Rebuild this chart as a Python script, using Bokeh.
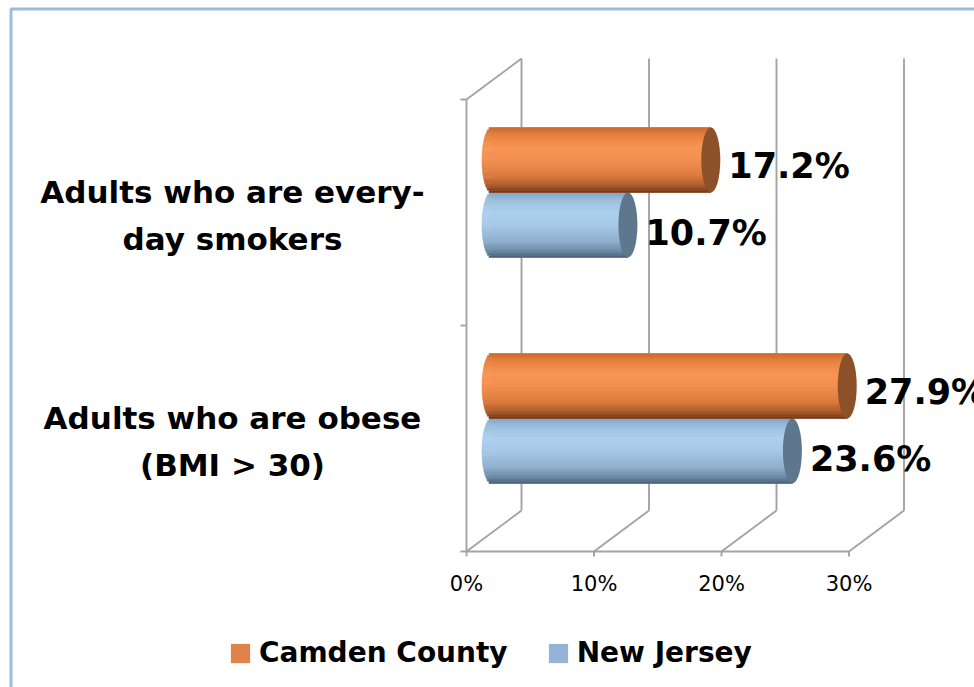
import numpy as np
from bokeh.plotting import figure
from bokeh.models import Range1d, Legend, LegendItem, ColumnDataSource
from bokeh.core.properties import value
from bokeh.embed import file_html
from bokeh.resources import INLINE

# ---------------- data ----------------
categories = ["Adults who are obese (BMI > 30)", "Adults who are every-day smokers"]
category_lines = [["Adults who are obese", "(BMI > 30)"],
                  ["Adults who are every-", "day smokers"]]
series_names = ["Camden County", "New Jersey"]
camden = [27.9, 17.2]
new_jersey = [23.6, 10.7]
x_ticks = [0, 10, 20, 30]
x_tick_labels = ["0%", "10%", "20%", "30%"]
value_labels_camden = ["27.9%", "17.2%"]
value_labels_nj = ["23.6%", "10.7%"]

# ---------------- layout / style ----------------
W, H = 974, 687
PX_PER_PCT = 12.75
ORIGIN_X = 466
FLOOR_Y = 551
BAND_PX = 226
FONT = "DejaVu Sans"
GRID = "#A3A3A3"
GW = 1.9


def sx(px):
    return (px - ORIGIN_X) / PX_PER_PCT


def sy(py):
    return (FLOOR_Y - py) / BAND_PX


DX = 55 / PX_PER_PCT          # depth offset in x (percent units)
DY = 41 / BAND_PX             # depth offset in y (band units)
BAR_X0 = 25 / PX_PER_PCT      # mid-depth x shift
BAR_DY = 20 / BAND_PX         # mid-depth y shift
T = 65 / BAND_PX              # bar thickness
A = 9.5 / PX_PER_PCT          # cap half-width

p = figure(width=W, height=H, x_range=Range1d(sx(0), sx(W)), y_range=Range1d(sy(H), sy(0)),
           output_backend="svg", toolbar_location=None, min_border=0,
           x_axis_location=None, y_axis_location=None, outline_line_color=None)
p.grid.visible = False
p.background_fill_color = "white"

# outer light-blue border (only left/top visible)
p.line(x=[sx(W + 20), sx(10.5), sx(10.5)], y=[sy(8.5), sy(8.5), sy(H + 20)],
       line_color="#9BBCDC", line_width=3)

ncat = len(categories)
top = ncat  # front top in band units

# back wall vertical gridlines
p.segment(x0=[t + DX for t in x_ticks], y0=[DY] * len(x_ticks),
          x1=[t + DX for t in x_ticks], y1=[top + DY] * len(x_ticks),
          line_color=GRID, line_width=GW)
# floor diagonals
p.segment(x0=x_ticks, y0=[0] * len(x_ticks), x1=[t + DX for t in x_ticks], y1=[DY] * len(x_ticks),
          line_color=GRID, line_width=GW)
# front floor edge
p.segment(x0=[x_ticks[0]], y0=[0], x1=[x_ticks[-1]], y1=[0], line_color=GRID, line_width=GW)
# left wall: front vertical + top diagonal
p.segment(x0=[0, 0], y0=[0, top], x1=[0, DX], y1=[top, top + DY], line_color=GRID, line_width=GW)
# left axis ticks at category boundaries
bounds = list(range(ncat + 1))
p.segment(x0=[-6 / PX_PER_PCT] * len(bounds), y0=bounds, x1=[0] * len(bounds), y1=bounds,
          line_color=GRID, line_width=GW)
# bottom ticks
p.segment(x0=x_ticks, y0=[0] * len(x_ticks), x1=x_ticks, y1=[-5 / BAND_PX] * len(x_ticks),
          line_color=GRID, line_width=GW)

# x tick labels
p.text(x=x_ticks, y=[sy(583)] * len(x_ticks), text=x_tick_labels, text_align="center",
       text_baseline="middle", text_font=value(FONT), text_font_size="21px", text_color="black")

# category labels
cx, cy, ct = [], [], []
for i, lines in enumerate(category_lines):
    c = i + 0.5
    for j, ln in enumerate(lines):
        cx.append(sx(232))
        cy.append(c - 3 / BAND_PX + (1 if j == 0 else -1) * 23.5 / BAND_PX)
        ct.append(ln)
p.text(x=cx, y=cy, text=ct, text_align="center", text_baseline="middle",
       text_font=value(FONT), text_font_style="bold", text_font_size="31px", text_color="black")


def hex2rgb(h):
    h = h.lstrip("#")
    return np.array([int(h[i:i + 2], 16) for i in (0, 2, 4)], dtype=float)


def grad(stops, t):
    ts = [s[0] for s in stops]
    cols = [hex2rgb(s[1]) for s in stops]
    for k in range(len(ts) - 1):
        if ts[k] >= t >= ts[k + 1]:
            f = (ts[k] - t) / (ts[k] - ts[k + 1])
            c = cols[k] * (1 - f) + cols[k + 1] * f
            return "#%02x%02x%02x" % tuple(int(round(v)) for v in c)
    return stops[-1][1]


ORANGE_STOPS = [(1.0, "#C96A2B"), (0.8, "#E5803D"), (0.4, "#F89656"), (0.0, "#F28F50"),
                (-0.5, "#DA793D"), (-0.8, "#A8582A"), (-1.0, "#6A3616")]
BLUE_STOPS = [(1.0, "#82A5C5"), (0.8, "#9CBEDD"), (0.4, "#ACD0EE"), (0.0, "#A6C9E8"),
              (-0.5, "#8FB0CE"), (-0.8, "#6C87A2"), (-1.0, "#475D74")]
N = 28


def cylinders(values, centers, stops, legend_color, cap_color):
    base = p.hbar(y=centers, height=T, left=BAR_X0, right=[BAR_X0 + v for v in values],
                  fill_color=legend_color, line_color=None)
    L, R, B, Tp, C = [], [], [], [], []
    edges = np.linspace(-1, 1, N + 1)
    for v, c in zip(values, centers):
        for k in range(N):
            tb, tt = edges[k], edges[k + 1]
            tm = 0.5 * (tb + tt)
            L.append(BAR_X0 - A * np.sqrt(max(0.0, 1 - tm * tm)))
            R.append(BAR_X0 + v)
            B.append(c + tb * T / 2)
            Tp.append(c + tt * T / 2)
            C.append(grad(stops, tm))
    src = ColumnDataSource(dict(left=L, right=R, bottom=B, top=Tp, color=C))
    p.quad(left="left", right="right", bottom="bottom", top="top", fill_color="color",
           line_color="color", line_width=0.6, source=src)
    p.ellipse(x=[BAR_X0 + v for v in values], y=centers, width=2 * A, height=T,
              fill_color=cap_color, line_color=None)
    return base


nj_centers = [i + 0.5 + BAR_DY - T / 2 for i in range(ncat)]
cc_centers = [i + 0.5 + BAR_DY + T / 2 for i in range(ncat)]

r_nj = cylinders(new_jersey, nj_centers, BLUE_STOPS, "#95B3D7", "#5E778D")
r_cc = cylinders(camden, cc_centers, ORANGE_STOPS, "#E0824A", "#8D5129")

# value labels
gap = 8 / PX_PER_PCT
p.text(x=[BAR_X0 + v + A + gap for v in camden], y=[c - 6 / BAND_PX for c in cc_centers],
       text=value_labels_camden, text_baseline="middle", text_align="left",
       text_font=value(FONT), text_font_style="bold", text_font_size="35px", text_color="black")
p.text(x=[BAR_X0 + v + A + gap for v in new_jersey], y=[c - 8 / BAND_PX for c in nj_centers],
       text=value_labels_nj, text_baseline="middle", text_align="left",
       text_font=value(FONT), text_font_style="bold", text_font_size="35px", text_color="black")

legend = Legend(items=[LegendItem(label=series_names[0], renderers=[r_cc]),
                       LegendItem(label=series_names[1], renderers=[r_nj])],
                orientation="horizontal", location=(228, 18),
                label_text_font=FONT, label_text_font_style="bold", label_text_font_size="28px",
                label_text_color="black",
                glyph_width=24, glyph_height=24, label_standoff=7, spacing=38,
                padding=4, margin=0, border_line_color=None, background_fill_alpha=0)
p.add_layout(legend)

open("out.html", "w").write(file_html(p, INLINE))
